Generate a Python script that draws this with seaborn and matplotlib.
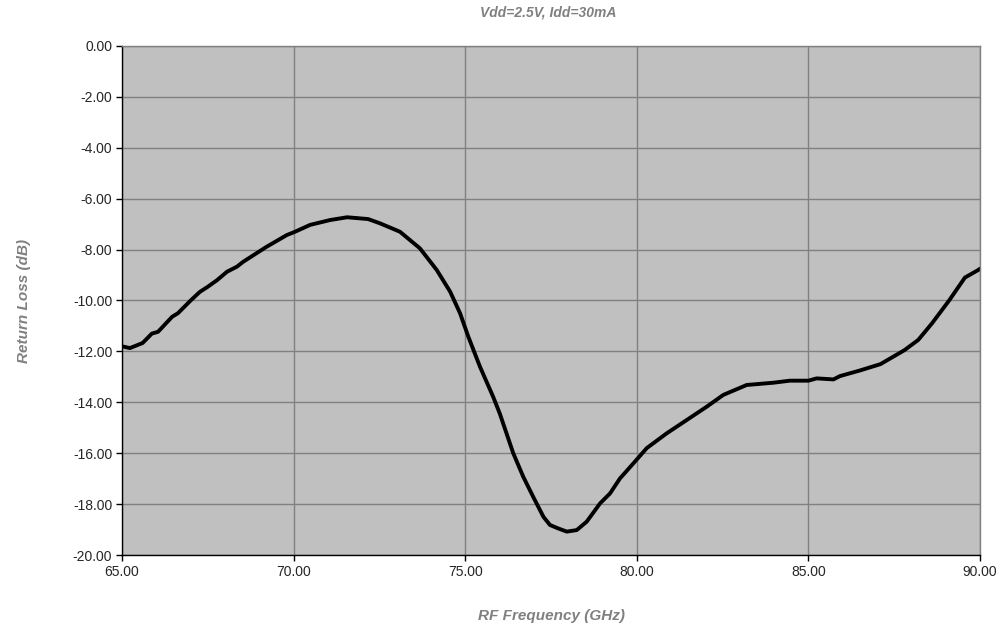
import pandas as pd
import numpy as np
import matplotlib.pyplot as plt
import seaborn as sns

# 数据
freq_ghz = [65.0, 65.23, 65.6, 65.87, 66.05, 66.46, 66.63, 67.0, 67.27, 67.5, 67.77,
            68.06, 68.35, 68.53, 69.2, 69.8, 70.04, 70.48, 71.06, 71.56, 72.17,
            72.52, 73.1, 73.68, 74.17, 74.56, 74.85, 75.09, 75.43, 75.82, 76.01,
            76.4, 76.69, 76.98, 77.28, 77.47, 77.7, 77.96, 78.25, 78.54, 78.93,
            79.22, 79.51, 79.9, 80.29, 80.87, 81.45, 82.04, 82.52, 83.2, 83.98,
            84.46, 85.0, 85.24, 85.73, 85.92, 86.5, 87.1, 87.8, 88.2, 88.6,
            89.1, 89.56, 89.95, 90.0]
return_loss_db = [-11.8, -11.87, -11.67, -11.3, -11.23, -10.64, -10.5, -10.0, -9.66, -9.46, -9.2,
                  -8.87, -8.67, -8.48, -7.9, -7.43, -7.3, -7.03, -6.84, -6.73, -6.8,
                  -6.97, -7.3, -7.95, -8.8, -9.65, -10.5, -11.42, -12.6, -13.8, -14.45,
                  -16.0, -16.92, -17.71, -18.5, -18.82, -18.95, -19.08, -19.02, -18.69, -17.97,
                  -17.58, -16.99, -16.4, -15.8, -15.22, -14.7, -14.17, -13.71, -13.32, -13.23,
                  -13.15, -13.15, -13.06, -13.1, -12.97, -12.75, -12.5, -11.95, -11.55, -10.9,
                  -10.0, -9.1, -8.8, -8.75]

title_text = "Vdd=2.5V, Idd=30mA"
x_label = "RF Frequency (GHz)"
y_label = "Return Loss (dB)"

df = pd.DataFrame({"freq": freq_ghz, "rl": return_loss_db})

sns.set_style("white")
plt.rcParams['font.family'] = ['Liberation Sans', 'DejaVu Sans']

fig = plt.figure(figsize=(10, 6.28), dpi=100)
ax = fig.add_axes([0.122, 0.1162, 0.858, 0.8106])
ax.set_facecolor('#c0c0c0')

sns.lineplot(data=df, x="freq", y="rl", ax=ax, color='black', linewidth=2.8)
for ln in ax.lines:
    ln.set_solid_joinstyle('round')
    ln.set_solid_capstyle('round')

ax.set_xlim(65, 90)
ax.set_ylim(-20, 0)
ax.set_xticks(np.arange(65, 90.1, 5))
ax.set_yticks(np.arange(-20, 0.1, 2))
ax.xaxis.set_major_formatter(plt.FormatStrFormatter('%.2f'))
ax.yaxis.set_major_formatter(plt.FormatStrFormatter('%.2f'))
ax.grid(True, color='#808080', linewidth=1)
ax.set_axisbelow(True)
ax.tick_params(axis='both', direction='out', length=4, width=1, color='black',
               labelsize=10, left=True, bottom=True, pad=3)

for side in ['top', 'right']:
    ax.spines[side].set_color('#808080')
    ax.spines[side].set_linewidth(1)
for side in ['left', 'bottom']:
    ax.spines[side].set_color('black')
    ax.spines[side].set_linewidth(1)

ax.set_xlabel(x_label, fontsize=11, color='#808080', fontstyle='italic',
              fontweight='bold', labelpad=22)
ax.set_ylabel(y_label, fontsize=11, color='#808080', fontstyle='italic',
              fontweight='bold', labelpad=30)
fig.text(0.548, 0.98, title_text, ha='center', va='center', fontsize=10,
         color='#808080', fontstyle='italic', fontweight='bold')

plt.savefig('out.png', dpi=100)
plt.close()
